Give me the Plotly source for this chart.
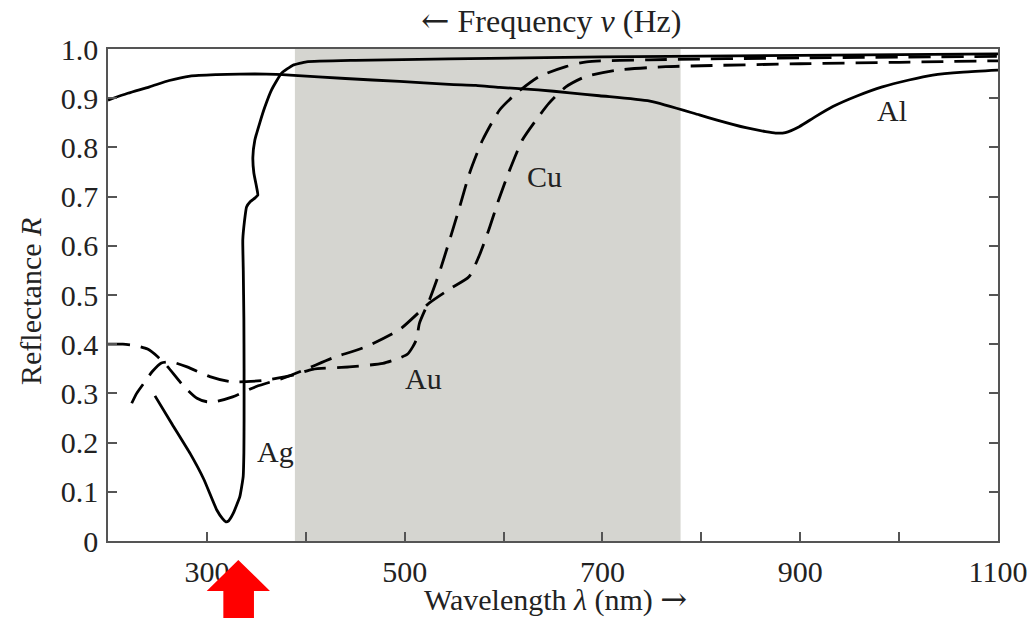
import plotly.graph_objects as go

# Reflectance of metal films versus wavelength
al_wl = [200, 220, 242, 262, 283, 310, 333, 360, 384, 440, 495, 545, 572, 596, 635, 667, 697,
         748, 798, 815, 845, 865, 875, 885, 899, 915, 933, 958, 983, 1010, 1034, 1065, 1100]
al_r = [0.896, 0.91, 0.923, 0.936, 0.945, 0.948, 0.949, 0.949, 0.947, 0.94, 0.934, 0.928, 0.926,
        0.922, 0.917, 0.911, 0.905, 0.894, 0.866, 0.856, 0.84, 0.832, 0.829, 0.83, 0.842, 0.862,
        0.883, 0.905, 0.923, 0.937, 0.947, 0.953, 0.957]

ag_wl = [247.5, 265, 283, 297, 310, 316, 319.2, 322, 326.6, 333.3, 336.7, 337.4, 337.6, 337.6,
         337.4, 336.8, 336.3, 338, 340.1, 344, 348.5, 351.5, 350.2, 347.5, 346.5, 348.5, 353.5,
         358.6, 365.4, 375.5, 387, 400.7, 450, 545, 700, 900, 1100]
ag_r = [0.295, 0.237, 0.178, 0.125, 0.063, 0.045, 0.039, 0.041, 0.056, 0.09, 0.131, 0.179, 0.246,
        0.35, 0.45, 0.55, 0.612, 0.65, 0.679, 0.69, 0.697, 0.703, 0.72, 0.748, 0.78, 0.815, 0.85,
        0.882, 0.917, 0.951, 0.967, 0.974, 0.977, 0.98, 0.984, 0.987, 0.99]

au_wl = [224, 229, 236, 245, 254, 264, 280, 303, 323, 340, 360, 387, 407, 444, 478, 495, 503,
         508, 512, 515, 525, 535, 545.5, 555.6, 565.7, 578.8, 596, 613, 636, 663, 684, 747, 900, 1100]
au_r = [0.28, 0.30, 0.32, 0.345, 0.362, 0.364, 0.354, 0.334, 0.324, 0.324, 0.327, 0.337, 0.349,
        0.354, 0.361, 0.372, 0.38, 0.394, 0.41, 0.443, 0.49, 0.545, 0.612, 0.679, 0.748, 0.815,
        0.876, 0.91, 0.944, 0.964, 0.974, 0.978, 0.982, 0.985]

cu_wl = [200, 215, 228, 240, 250, 260, 276, 290, 300, 310, 326, 350, 377, 401, 427, 461, 495, 525,
         547, 565, 575, 585, 595, 605, 619, 633, 646, 663, 683, 714, 764, 800, 900, 1000, 1100]
cu_r = [0.40, 0.40, 0.397, 0.39, 0.375, 0.355, 0.316, 0.29, 0.283, 0.284, 0.293, 0.314, 0.331,
        0.35, 0.372, 0.395, 0.43, 0.484, 0.514, 0.537, 0.578, 0.632, 0.693, 0.748, 0.815, 0.856,
        0.89, 0.923, 0.944, 0.957, 0.964, 0.966, 0.97, 0.973, 0.976]

# visible band
visible = (389, 779)

x_ticks = list(range(200, 1101, 100))
x_labels = ["" if v % 200 == 0 else str(v) for v in x_ticks]
y_ticks = [i / 10 for i in range(11)]
y_labels = ["0"] + [f"{v:.1f}" for v in y_ticks[1:]]

curve_labels = [("Al", 993, 0.876), ("Cu", 641, 0.74), ("Au", 519, 0.331), ("Ag", 369, 0.181)]

FONT = "Liberation Serif"
INK = "#222222"
FRAME = "#555555"
FS = 30
W, H = 1032, 618
ML, MR, MT, MB = 108, 34, 49, 77
pw, ph = W - ML - MR, H - MT - MB


def px(xp, yp):
    """Page pixel -> paper coordinates of the plotting area."""
    return (xp - ML) / pw, (H - MB - yp) / ph


def arrow(ch, size=32):
    return f"<span style='font-family:DejaVu Serif;font-size:{size}px'>{ch}</span>"


fig = go.Figure()

solid = dict(color="black", width=2.8, shape="spline", smoothing=0.6)
dashed = dict(color="black", width=2.8, dash="22px,11px", shape="spline", smoothing=0.6)

fig.add_trace(go.Scatter(x=al_wl, y=al_r, mode="lines", line=solid, name="Al"))
fig.add_trace(go.Scatter(x=ag_wl, y=ag_r, mode="lines", line=dict(solid, smoothing=0.4), name="Ag"))
fig.add_trace(go.Scatter(x=au_wl, y=au_r, mode="lines", line=dashed, name="Au"))
fig.add_trace(go.Scatter(x=cu_wl, y=cu_r, mode="lines", line=dashed, name="Cu"))

fig.add_shape(type="rect", xref="x", yref="y", x0=visible[0], x1=visible[1], y0=0, y1=1,
              fillcolor="#d5d5d0", line=dict(width=0), layer="below")

for text, xv, yv in curve_labels:
    fig.add_annotation(x=xv, y=yv, text=text, showarrow=False,
                       font=dict(family=FONT, size=FS, color=INK))

# axis titles
centered = dict(xref="paper", yref="paper", showarrow=False, xanchor="center", yanchor="middle")
tx, ty = px(551, 20)
fig.add_annotation(x=tx, y=ty, text=arrow("\u2190", 34) + " Frequency <i>\u03bd</i> (Hz)",
                   font=dict(family=FONT, size=32, color=INK), **centered)
bx, by = px(555, 599)
fig.add_annotation(x=bx, y=by, text="Wavelength <i>\u03bb</i> (nm) " + arrow("\u2192"),
                   font=dict(family=FONT, size=30, color=INK), **centered)
lx, ly = px(30, 302)
fig.add_annotation(x=lx, y=ly, textangle=-90, text="Reflectance <i>R</i>",
                   font=dict(family=FONT, size=30, color=INK), **centered)

# red pointer below the axis
pts = [px(238.3, 560), px(270, 591), px(254, 591), px(254, 625), px(223.3, 625),
       px(223.3, 591), px(206.7, 591)]
path = "M " + " L ".join(f"{a:.4f},{b:.4f}" for a, b in pts) + " Z"
fig.add_shape(type="path", xref="paper", yref="paper", path=path,
              fillcolor="#ff0000", line=dict(width=0), layer="above")

fig.update_layout(
    width=W, height=H,
    margin=dict(l=ML, r=MR, t=MT, b=MB, autoexpand=False),
    paper_bgcolor="white", plot_bgcolor="white",
    showlegend=False,
    font=dict(family=FONT, size=FS, color=INK),
)
fig.update_xaxes(
    range=[200, 1100], tickmode="array", tickvals=x_ticks, ticktext=x_labels,
    ticks="inside", ticklen=9, tickwidth=1.5, tickcolor=FRAME,
    showline=True, linecolor=FRAME, linewidth=1.5, mirror=True,
    showgrid=False, zeroline=False, ticklabelstandoff=3, automargin=False,
    tickfont=dict(family=FONT, size=FS, color=INK),
)
fig.update_yaxes(
    range=[0, 1], tickmode="array", tickvals=y_ticks, ticktext=y_labels,
    ticks="inside", ticklen=9, tickwidth=1.5, tickcolor=FRAME,
    showline=True, linecolor=FRAME, linewidth=1.5, mirror="ticks",
    showgrid=False, zeroline=False, ticklabelstandoff=2, automargin=False,
    tickfont=dict(family=FONT, size=FS, color=INK),
)

fig.write_html("out.html")
